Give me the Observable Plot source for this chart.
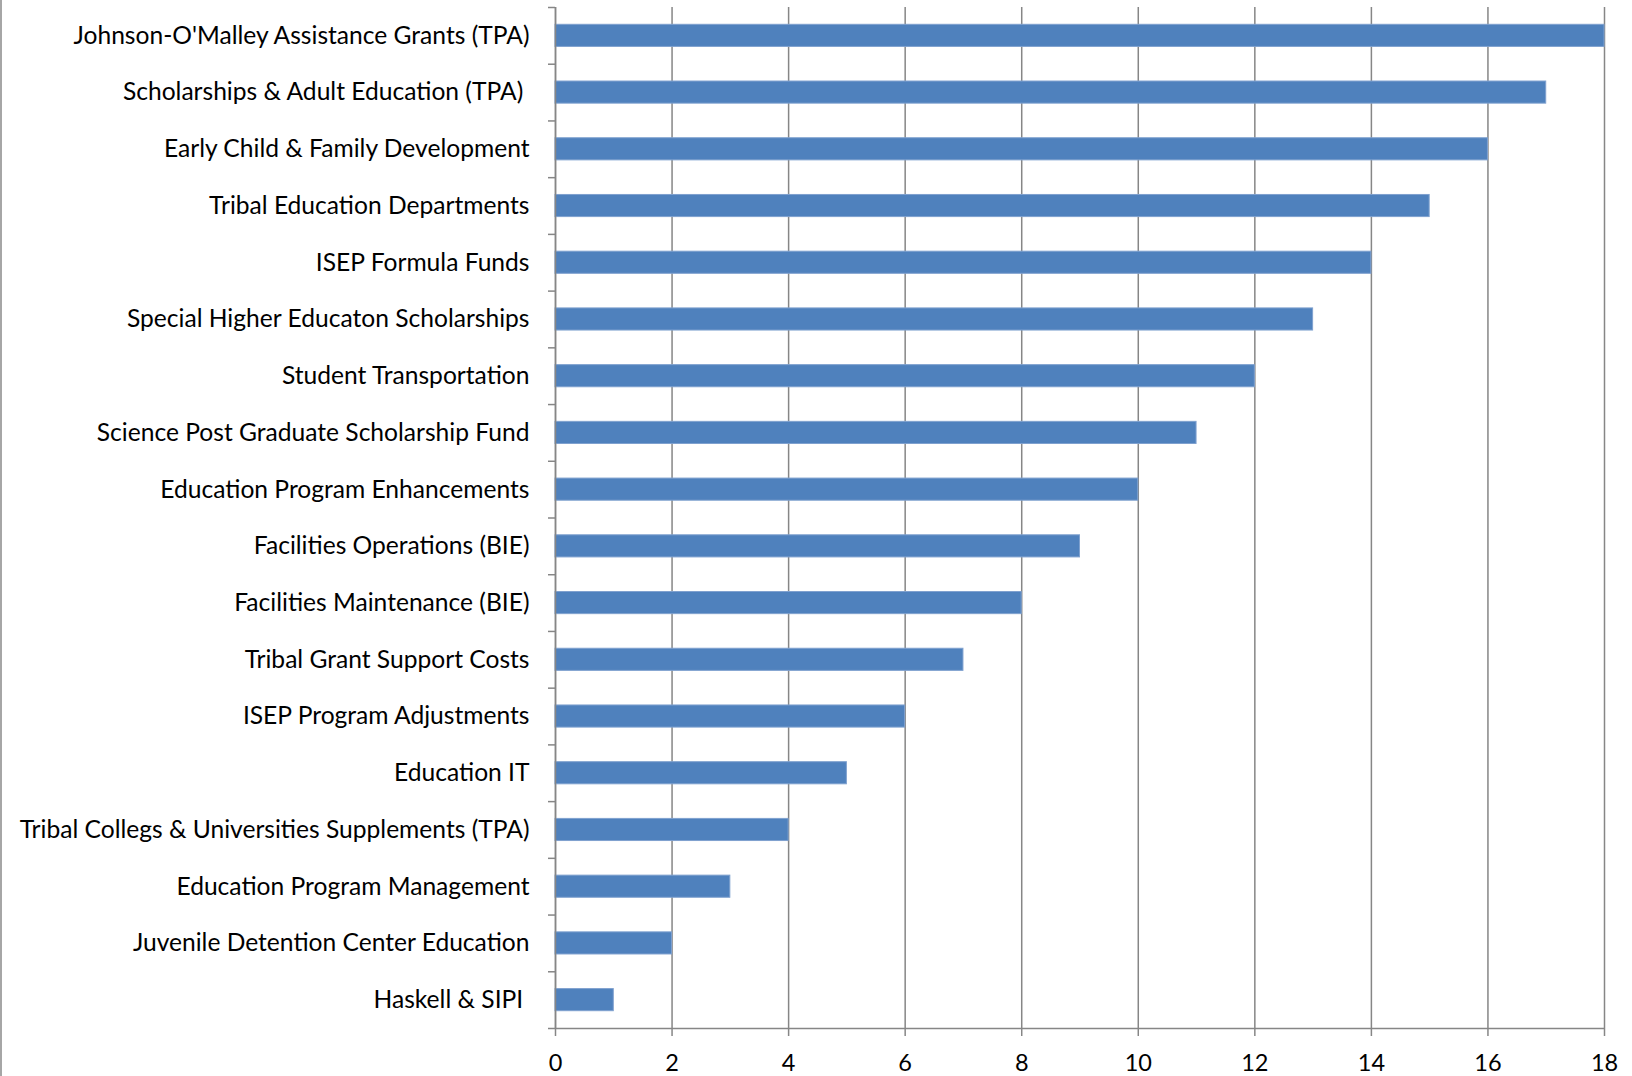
<!DOCTYPE html>
<html>
<head>
<meta charset="utf-8">
<script src="https://cdn.jsdelivr.net/npm/d3@7"></script>
<script src="https://cdn.jsdelivr.net/npm/@observablehq/plot@0.6"></script>
<style>
  html, body { margin: 0; padding: 0; background: #fff; }
  #chart { position: relative; width: 1632px; height: 1076px; overflow: hidden; }
  #chart svg { display: block; }
  #edge { position: absolute; left: 0; top: 0; width: 2px; height: 1076px; background: #a6a6a6; }
</style>
</head>
<body>
<div id="chart"><div id="edge"></div></div>
<script>
const categories = [
  "Johnson-O'Malley Assistance Grants (TPA)",
  "Scholarships & Adult Education (TPA)\u00a0",
  "Early Child & Family Development",
  "Tribal Education Departments",
  "ISEP Formula Funds",
  "Special Higher Educaton Scholarships",
  "Student Transportation",
  "Science Post Graduate Scholarship Fund",
  "Education Program Enhancements",
  "Facilities Operations (BIE)",
  "Facilities Maintenance (BIE)",
  "Tribal Grant Support Costs",
  "ISEP Program Adjustments",
  "Education IT",
  "Tribal Collegs & Universities Supplements (TPA)",
  "Education Program Management",
  "Juvenile Detention Center Education",
  "Haskell & SIPI\u00a0"
];
const values = [18, 17, 16, 15, 14, 13, 12, 11, 10, 9, 8, 7, 6, 5, 4, 3, 2, 1];
const xTicks = [0, 2, 4, 6, 8, 10, 12, 14, 16, 18];

const data = categories.map((c, i) => ({category: c, value: values[i]}));

const W = 1632, H = 1076;
const mt = 7, mb = 48, ml = 555, mr = 28;
const step = (H - mt - mb) / categories.length;
const gray = "#868686";

const chart = Plot.plot({
  width: W,
  height: H,
  marginTop: mt,
  marginBottom: mb,
  marginLeft: ml,
  marginRight: mr,
  style: {fontFamily: "Lato, 'Noto Sans', sans-serif", color: "#000", background: "#fff"},
  x: {domain: [0, 18], ticks: xTicks},
  y: {domain: categories, paddingInner: 0.61, paddingOuter: 0.305, round: false},
  marks: [
    Plot.gridX(xTicks, {stroke: gray, strokeOpacity: 1, strokeWidth: 1.5}),
    Plot.barX(data, {y: "category", x: "value", fill: "#4f81bd", stroke: "#7fa1cf", strokeWidth: 1}),
    Plot.ruleY([categories[categories.length - 1]], {dy: step / 2, stroke: gray, strokeWidth: 1.5}),
    Plot.ruleX([0], {stroke: gray, strokeWidth: 1.5}),
    Plot.axisX({ticks: xTicks, tickSize: 8, tickPadding: 18, stroke: gray, strokeWidth: 1.5, fontSize: 23.5, label: null}),
    Plot.axisY({ticks: categories, tickSize: 0, tickPadding: 26, fontSize: 24.6, label: null}),
    Plot.axisY({ticks: categories, tickSize: 7, tickFormat: () => "", dy: -step / 2, stroke: gray, strokeWidth: 1.5, label: null}),
    Plot.axisY({ticks: [categories[categories.length - 1]], tickSize: 7, tickFormat: () => "", dy: step / 2, stroke: gray, strokeWidth: 1.5, label: null})
  ]
});
document.getElementById("chart").appendChild(chart);
</script>
</body>
</html>
